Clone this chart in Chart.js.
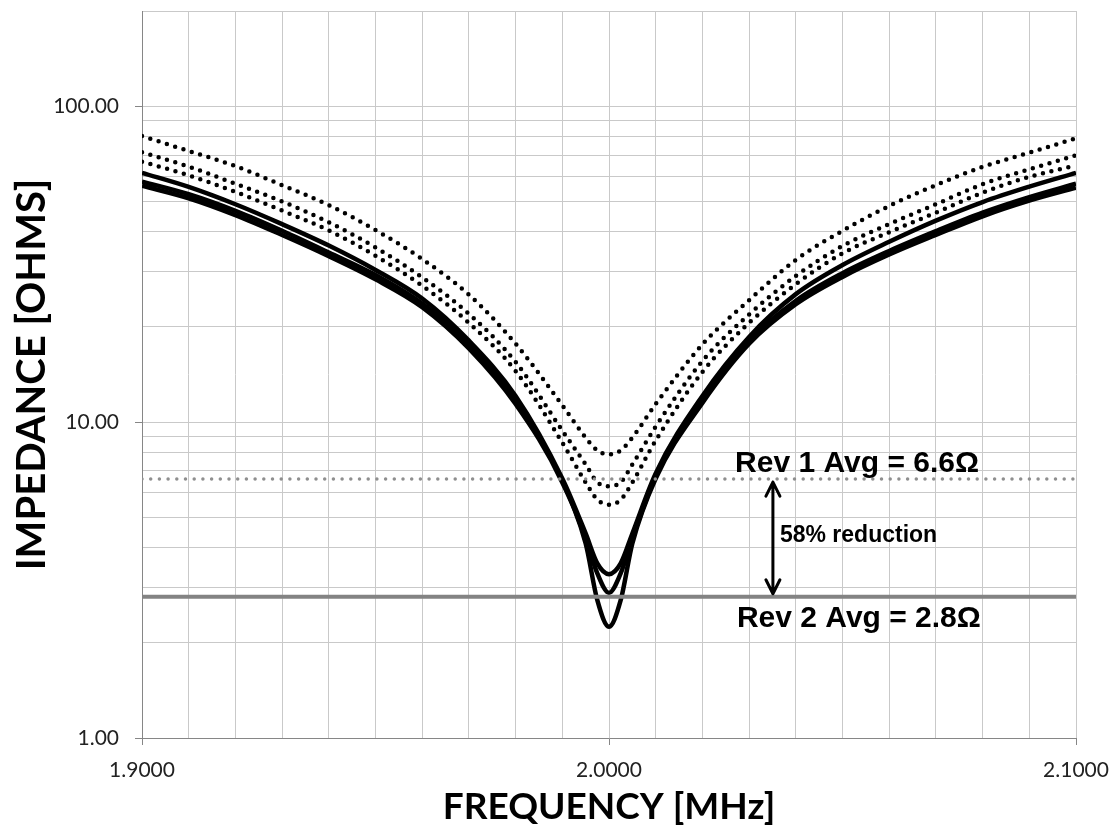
<!DOCTYPE html>
<html><head><meta charset="utf-8">
<script src="https://cdn.jsdelivr.net/npm/chart.js@4.4.1/dist/chart.umd.min.js"></script>
<style>html,body{margin:0;padding:0;background:#fff;}#wrap{width:1114px;height:829px;}</style>
</head><body><div id="wrap"><canvas id="c" width="1114" height="829"></canvas></div>
<script>
// ---- data ----
const freqMHz = [1.90,1.91,1.92,1.93,1.94,1.95,1.96,1.97,1.98,1.99,1.995,1.9975,2.00,2.0025,2.005,2.01,2.02,2.03,2.04,2.05,2.06,2.07,2.08,2.09,2.10];
// Rev 1 boards (dotted)
const rev1A = [80.4,72.1,64.6,56.2,48.6,40.5,32.8,25.3,17.7,11.3,8.93,8.13,7.90,8.13,8.93,11.4,17.6,24.3,32.6,40.3,48.3,56.2,64.2,71.2,79.1];
const rev1B = [71.4,64.3,56.8,49.9,42.9,35.7,28.7,22.0,15.5,9.40,7.34,6.45,6.26,6.45,7.34,9.68,15.6,21.9,29.0,36.1,42.3,48.9,56.6,63.1,69.9];
const rev1C = [66.7,60.4,53.5,46.7,40.4,33.6,27.0,20.6,14.5,8.61,6.44,5.68,5.47,5.68,6.44,8.74,14.4,20.6,27.3,34.2,39.9,46.0,53.2,59.7,64.9];
// Rev 2 boards (solid)
const rev2A = [61.5,55.5,48.9,42.3,36.2,30.3,24.6,18.1,12.1,6.63,4.44,3.57,3.30,3.57,4.44,6.88,12.1,18.6,25.4,31.4,37.2,43.4,49.7,55.6,61.5];
const rev2B = [57.7,52.6,46.6,40.3,34.4,29.2,23.7,17.6,11.7,6.53,4.28,3.32,2.88,3.32,4.28,6.73,11.9,18.1,24.2,29.6,34.8,40.2,46.0,51.5,56.8];
const rev2C = [56.0,51.1,45.2,39.1,33.5,28.3,23.1,17.1,11.4,6.44,4.13,2.73,2.25,2.73,4.13,6.63,11.5,17.7,23.6,28.8,33.9,39.1,44.8,50.2,55.2];
// averages
const avgLevels = [6.6, 2.8];
const avgLabels = ['Rev 1 Avg = 6.6\u03A9', 'Rev 2 Avg = 2.8\u03A9'];
const reductionLabel = '58% reduction';
// ticks
const xTicks = [1.90,1.91,1.92,1.93,1.94,1.95,1.96,1.97,1.98,1.99,2.00,2.01,2.02,2.03,2.04,2.05,2.06,2.07,2.08,2.09,2.10];
const xLabelTicks = [1.9, 2.0, 2.1];
const yTicks = [1,2,3,4,5,6,7,8,9,10,20,30,40,50,60,70,80,90,100,200];
const yLabelTicks = [1, 10, 100];

// ---- build ----
const pts = arr => freqMHz.map((f, i) => ({x: f, y: arr[i]}));
const flat = v => [{x: xTicks[0], y: v}, {x: xTicks[xTicks.length - 1], y: v}];
const isXLab = v => xLabelTicks.some(t => Math.abs(t - v) < 1e-9);
const isYLab = v => yLabelTicks.some(t => Math.abs(t - v) < 1e-9);
const zeroPad = s => { s.paddingTop = 0; s.paddingBottom = 0; s.paddingLeft = 0; s.paddingRight = 0; };

const dotted = {borderColor: '#000', borderWidth: 4.5, borderDash: [0, 8.7], borderCapStyle: 'round', cubicInterpolationMode: 'monotone', pointRadius: 0, fill: false, order: 2};
const solid = {borderColor: '#000', borderWidth: 4.5, cubicInterpolationMode: 'monotone', pointRadius: 0, fill: false, order: 2};

const annot = {
  id: 'annot',
  afterDatasetsDraw(chart) {
    const {ctx, scales: {x, y}} = chart;
    const y1 = y.getPixelForValue(avgLevels[0]);
    const y2 = y.getPixelForValue(avgLevels[1]);
    ctx.save();
    ctx.fillStyle = '#000';
    ctx.textAlign = 'left';
    ctx.textBaseline = 'alphabetic';
    ctx.font = 'bold 30px "Liberation Sans", Arial, sans-serif';
    ctx.fillText(avgLabels[0], x.getPixelForValue(2.0270), y1 - 7);
    ctx.fillText(avgLabels[1], x.getPixelForValue(2.0274), y2 + 30);
    const ax = x.getPixelForValue(2.0351);
    ctx.strokeStyle = '#000';
    ctx.lineWidth = 3;
    ctx.lineCap = 'round';
    ctx.lineJoin = 'round';
    ctx.beginPath();
    ctx.moveTo(ax, y1 + 3); ctx.lineTo(ax, y2 - 3);
    ctx.moveTo(ax - 7, y1 + 17); ctx.lineTo(ax, y1 + 3); ctx.lineTo(ax + 7, y1 + 17);
    ctx.moveTo(ax - 7, y2 - 17); ctx.lineTo(ax, y2 - 3); ctx.lineTo(ax + 7, y2 - 17);
    ctx.stroke();
    ctx.font = 'bold 23px "Liberation Sans", Arial, sans-serif';
    ctx.textBaseline = 'middle';
    ctx.fillText(reductionLabel, x.getPixelForValue(2.0366), (y1 + y2) / 2 - 2);
    ctx.restore();
  }
};

new Chart(document.getElementById('c'), {
  type: 'line',
  data: {
    datasets: [
      {label: 'Rev 1 Avg', data: flat(avgLevels[0]), borderColor: '#8f8f8f', borderWidth: 3.5, borderDash: [0, 8.7], borderCapStyle: 'round', pointRadius: 0, fill: false, order: 0},
      {label: 'Rev 2 Avg', data: flat(avgLevels[1]), borderColor: '#838383', borderWidth: 4, pointRadius: 0, fill: false, order: 0},
      Object.assign({label: 'Rev 1 A', data: pts(rev1A)}, dotted),
      Object.assign({label: 'Rev 1 B', data: pts(rev1B)}, dotted),
      Object.assign({label: 'Rev 1 C', data: pts(rev1C)}, dotted),
      Object.assign({label: 'Rev 2 A', data: pts(rev2A)}, solid),
      Object.assign({label: 'Rev 2 B', data: pts(rev2B)}, solid),
      Object.assign({label: 'Rev 2 C', data: pts(rev2C)}, solid)
    ]
  },
  options: {
    responsive: false,
    animation: false,
    devicePixelRatio: 1,
    layout: {padding: {top: 11, right: 38, bottom: 0, left: 0}, autoPadding: false},
    plugins: {legend: {display: false}, tooltip: {enabled: false}},
    scales: {
      x: {
        type: 'linear', min: 1.9, max: 2.1,
        afterBuildTicks: s => { s.ticks = xTicks.map(v => ({value: v})); },
        afterFit: s => { s.height = 91; zeroPad(s); },
        ticks: {autoSkip: false, maxRotation: 0, padding: 13, color: '#222',
          font: {family: 'Lato, "Liberation Sans", sans-serif', size: 21},
          callback: v => isXLab(v) ? Number(v).toFixed(4) : ''},
        grid: {color: '#c9c9c9', lineWidth: 1, tickLength: 7,
          tickColor: c => (c.tick && isXLab(c.tick.value)) ? '#868686' : 'rgba(0,0,0,0)'},
        border: {color: '#868686', width: 1},
        title: {display: true, text: 'FREQUENCY [MHz]', color: '#000',
          font: {family: 'Lato, "Liberation Sans", sans-serif', size: 37, weight: 'bold', lineHeight: 1},
          padding: {top: 0, bottom: 3}}
      },
      y: {
        type: 'logarithmic', min: 1, max: 200,
        afterBuildTicks: s => { s.ticks = yTicks.map(v => ({value: v})); },
        afterFit: s => { s.width = 142; zeroPad(s); },
        ticks: {autoSkip: false, padding: 16, color: '#222',
          font: {family: 'Lato, "Liberation Sans", sans-serif', size: 21},
          callback: v => isYLab(v) ? Number(v).toFixed(2) : ''},
        grid: {color: '#c9c9c9', lineWidth: 1, tickLength: 7,
          tickColor: c => (c.tick && isYLab(c.tick.value)) ? '#868686' : 'rgba(0,0,0,0)'},
        border: {color: '#868686', width: 1},
        title: {display: true, text: 'IMPEDANCE [OHMS]', color: '#000',
          font: {family: 'Lato, "Liberation Sans", sans-serif', size: 40, weight: 'bold', lineHeight: 1},
          padding: {top: 12, bottom: 0}}
      }
    }
  },
  plugins: [annot]
});
</script>
</body></html>
